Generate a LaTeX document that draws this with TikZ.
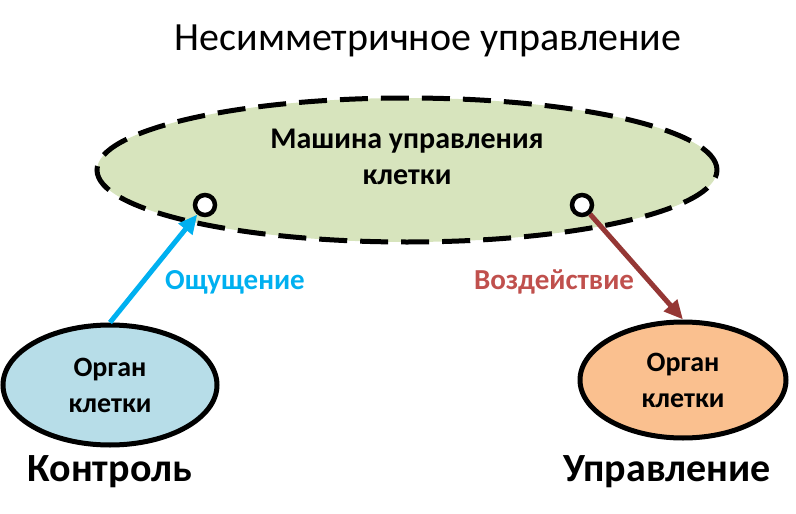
\documentclass[tikz,border=0pt]{standalone}
\usepackage{fontspec}
\setmainfont{Carlito}
\usetikzlibrary{shapes.geometric,arrows.meta}
\definecolor{Mfill}{RGB}{215,228,189}
\definecolor{Cfill}{RGB}{183,221,232}
\definecolor{Ufill}{RGB}{250,192,143}
\definecolor{Sense}{RGB}{0,176,240}
\definecolor{Act}{RGB}{149,55,53}
\definecolor{ActText}{RGB}{192,80,77}

\begin{document}
\begin{tikzpicture}[x=1pt,y=-1pt,
  organ/.style={ellipse,draw,line width=5pt,inner sep=0pt,align=center,font=\bfseries\fontsize{28}{36}\selectfont},
  port/.style={circle,draw,line width=4.5pt,fill=white,minimum size=20pt,inner sep=0pt},
  flow/.style={line width=5pt,-{Triangle[length=19pt,width=17pt]}},
  bigtext/.style={font=\bfseries\fontsize{40}{44}\selectfont}]
\path[use as bounding box] (0,0) rectangle (796,514);
\node[font=\fontsize{40}{44}\selectfont] (title) at (428,41) {Несимметричное управление};
\node[ellipse,draw,line width=5pt,dash pattern=on 28pt off 13pt,fill=Mfill,minimum width=620pt,minimum height=144pt,inner sep=0pt,align=center,font=\bfseries\fontsize{30}{36}\selectfont] (machine) at (407,170) {};
\node[align=center,font=\bfseries\fontsize{30}{36}\selectfont] (machinetext) at (407,157) {Машина управления\\клетки};
\node[port] (sensin) at (205,205) {};
\node[port] (actout) at (582,205) {};
\node[organ,fill=Cfill,minimum width=214pt,minimum height=120pt] (control) at (110,385) {Орган\\клетки};
\node[organ,fill=Ufill,minimum width=206pt,minimum height=116pt] (effector) at (683,380) {Орган\\клетки};
\draw[flow,draw=Sense] (control.north) -- (sensin);
\draw[flow,draw=Act] (actout) -- (effector.north);
\node[font=\bfseries\fontsize{29}{32}\selectfont,text=Sense] (sensing) at (235,282) {Ощущение};
\node[font=\bfseries\fontsize{29}{32}\selectfont,text=ActText] (acting) at (554,282) {Воздействие};
\node[bigtext] (ctrllabel) at (110,472) {Контроль};
\node[bigtext] (mgmtlabel) at (667,472) {Управление};
\end{tikzpicture}
\end{document}
